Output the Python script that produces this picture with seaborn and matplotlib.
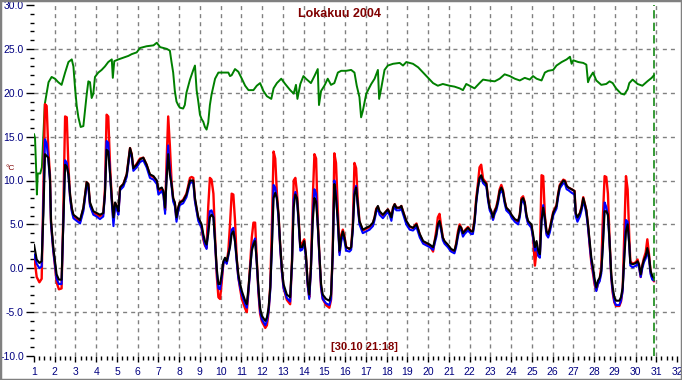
import matplotlib
matplotlib.use("Agg")
import matplotlib.pyplot as plt
import matplotlib.patches as mpatches
from matplotlib.ticker import MultipleLocator, FormatStrFormatter
import seaborn as sns
import pandas as pd

# ---------------- data ----------------
title_text = "Lokakuu 2004"
cursor_text = "[30.10 21:18]"
cursor_day = 30.8875
unit_text = "°C"

days = [1.0, 1.13, 1.26, 1.37, 1.45, 1.53, 1.61, 1.69, 1.77, 1.82, 1.93, 2.01, 2.09, 2.2, 2.33, 2.4, 2.5, 2.58, 2.66, 2.74,
        2.82, 2.9, 3.06, 3.22, 3.38, 3.54, 3.62, 3.7, 3.86, 4.02, 4.18, 4.34, 4.42, 4.5, 4.58, 4.67, 4.75, 4.83, 4.91, 4.99,
        5.07, 5.15, 5.31, 5.47, 5.63, 5.71, 5.79, 5.95, 6.11, 6.27, 6.43, 6.59, 6.76, 6.92, 7.0, 7.16, 7.24, 7.32, 7.39, 7.47,
        7.55, 7.63, 7.71, 7.79, 7.87, 7.95, 8.03, 8.19, 8.35, 8.52, 8.6, 8.68, 8.76, 8.84, 8.92, 9.0, 9.08, 9.16, 9.24, 9.32,
        9.4, 9.48, 9.56, 9.65, 9.73, 9.81, 9.89, 9.97, 10.05, 10.13, 10.21, 10.29, 10.37, 10.45, 10.53, 10.61, 10.69, 10.77, 10.85, 10.94,
        11.02, 11.18, 11.26, 11.34, 11.42, 11.5, 11.58, 11.66, 11.74, 11.82, 11.9, 11.98, 12.15, 12.23, 12.31, 12.39, 12.47, 12.55, 12.63, 12.71,
        12.79, 12.87, 12.95, 13.03, 13.19, 13.35, 13.44, 13.52, 13.6, 13.68, 13.76, 13.84, 13.92, 14.03, 14.11, 14.19, 14.27, 14.35, 14.44, 14.52,
        14.6, 14.68, 14.76, 14.84, 14.92, 15.08, 15.24, 15.32, 15.4, 15.48, 15.56, 15.65, 15.73, 15.81, 15.89, 15.97, 16.05, 16.21, 16.29, 16.37,
        16.45, 16.53, 16.61, 16.69, 16.85, 17.02, 17.18, 17.34, 17.42, 17.5, 17.58, 17.66, 17.82, 17.98, 18.06, 18.15, 18.23, 18.31, 18.39, 18.47,
        18.63, 18.71, 18.79, 18.95, 19.11, 19.27, 19.44, 19.6, 19.76, 19.92, 20.08, 20.24, 20.4, 20.47, 20.55, 20.63, 20.71, 20.79, 20.95, 21.11,
        21.27, 21.35, 21.44, 21.52, 21.6, 21.68, 21.76, 21.92, 22.08, 22.16, 22.24, 22.32, 22.4, 22.48, 22.56, 22.65, 22.81, 22.89, 22.97, 23.05,
        23.13, 23.21, 23.29, 23.37, 23.45, 23.53, 23.61, 23.69, 23.77, 23.94, 24.02, 24.18, 24.34, 24.42, 24.5, 24.58, 24.66, 24.74, 24.82, 24.98,
        25.06, 25.15, 25.23, 25.31, 25.39, 25.47, 25.55, 25.63, 25.71, 25.79, 25.87, 25.95, 26.03, 26.19, 26.27, 26.35, 26.52, 26.6, 26.68, 26.76,
        26.92, 27.06, 27.12, 27.2, 27.32, 27.4, 27.48, 27.56, 27.63, 27.71, 27.79, 27.87, 27.95, 28.03, 28.11, 28.19, 28.27, 28.35, 28.43, 28.51,
        28.59, 28.67, 28.75, 28.83, 28.9, 28.98, 29.06, 29.22, 29.3, 29.38, 29.46, 29.54, 29.62, 29.7, 29.75, 29.86, 30.02, 30.1, 30.17, 30.25,
        30.33, 30.41, 30.49, 30.57, 30.65, 30.73, 30.81, 30.89]

black = [2.7, 1.0, 0.6, 0.8, 6.0, 13.0, 12.8, 12.6, 10.3, 5.4, 2.4, 0.8, -0.7, -1.3, -1.3, 4.0, 11.8, 11.6, 10.7, 8.4,
         6.9, 6.1, 5.8, 5.5, 6.9, 9.8, 9.6, 7.5, 6.5, 6.3, 6.1, 6.3, 8.4, 13.5, 13.3, 10.7, 8.0, 5.8, 7.5, 7.1,
         6.5, 9.2, 9.6, 10.7, 13.7, 13.0, 11.4, 11.8, 12.4, 12.6, 11.8, 10.7, 10.5, 10.0, 9.0, 9.2, 8.8, 6.9, 10.0, 13.0,
         10.7, 9.6, 8.0, 7.5, 5.8, 6.9, 7.5, 7.7, 8.4, 10.0, 10.0, 10.0, 8.0, 6.9, 5.8, 5.4, 5.0, 3.9, 3.1, 2.7,
         3.9, 5.8, 6.1, 5.8, 3.1, 0.0, -1.8, -1.8, -0.7, 0.8, 1.2, 0.8, 1.6, 2.4, 3.9, 4.2, 3.1, 1.2, -0.7, -1.8,
         -2.6, -3.7, -4.1, -2.2, 0.0, 2.0, 2.7, 3.1, 0.8, -2.2, -4.5, -5.4, -6.0, -5.6, -4.5, -2.2, 2.4, 8.0, 8.6, 8.0,
         6.1, 2.7, 0.0, -1.8, -3.0, -3.3, 0.8, 6.9, 8.4, 8.0, 5.4, 2.4, 2.4, 3.1, 1.6, -1.4, -3.0, 0.0, 5.4, 8.0,
         7.6, 5.0, 1.6, -1.8, -3.0, -3.5, -3.7, -3.0, 1.6, 9.6, 8.0, 5.4, 2.0, 3.5, 4.2, 3.5, 2.4, 2.2, 2.4, 4.6,
         8.4, 9.2, 7.3, 5.4, 4.4, 4.6, 4.8, 5.2, 5.8, 6.7, 7.1, 6.5, 6.1, 6.5, 6.7, 6.3, 5.8, 6.9, 7.3, 6.9,
         6.9, 7.1, 6.5, 5.4, 4.8, 4.6, 5.0, 3.9, 3.1, 2.9, 2.7, 2.4, 3.9, 5.0, 5.4, 4.6, 3.5, 3.1, 2.7, 2.2,
         2.0, 2.7, 3.9, 4.8, 4.6, 4.0, 4.2, 4.6, 4.2, 4.2, 5.4, 7.7, 9.2, 10.3, 10.6, 10.0, 9.6, 8.0, 6.9, 6.5,
         5.8, 6.5, 6.9, 7.7, 8.8, 9.2, 8.8, 7.7, 6.9, 6.5, 6.1, 5.6, 5.4, 6.1, 7.8, 8.0, 7.5, 6.1, 5.4, 5.0,
         3.9, 2.4, 3.1, 2.0, 1.6, 5.4, 6.9, 5.8, 4.2, 3.9, 4.5, 5.4, 6.3, 7.1, 8.4, 9.4, 10.0, 9.9, 9.4, 9.2,
         9.0, 8.8, 6.3, 5.8, 6.3, 6.9, 8.0, 7.3, 6.6, 5.0, 3.1, 1.2, 0.1, -1.25, -2.2, -1.4, -1.1, -0.3, 2.7, 6.5,
         6.5, 6.1, 3.1, -0.7, -2.2, -3.3, -3.7, -3.7, -3.3, -2.2, 1.2, 4.2, 5.0, 2.7, 0.6, 0.45, 0.6, 0.8, 0.45, -0.7,
         0.3, 1.0, 1.4, 2.3, 1.4, -0.3, -0.9, -1.1]

red = [1.5, -1.0, -1.6, -1.2, 9.0, 18.7, 18.5, 13.5, 10.6, 5.2, 2.0, 0.3, -1.6, -2.4, -2.3, 5.0, 17.3, 17.2, 11.5, 8.2,
       6.7, 6.0, 5.6, 5.3, 6.8, 9.8, 9.6, 7.3, 6.3, 6.1, 5.9, 6.2, 9.0, 17.5, 17.3, 11.5, 8.0, 5.5, 7.4, 7.0,
       6.4, 9.2, 9.6, 10.7, 13.7, 13.0, 11.4, 11.9, 12.5, 12.6, 11.8, 10.6, 10.4, 9.9, 8.8, 9.0, 8.6, 6.6, 12.0, 17.3,
       14.0, 10.0, 7.9, 7.4, 5.6, 6.8, 7.5, 7.8, 8.5, 10.3, 10.4, 10.3, 7.8, 6.7, 5.7, 5.3, 4.6, 3.3, 2.6, 2.3,
       7.0, 10.3, 10.1, 8.5, 3.5, -0.8, -3.3, -3.5, -1.6, 0.6, 1.0, 0.6, 2.0, 5.0, 8.5, 8.4, 5.5, 1.2, -1.0, -2.4,
       -3.5, -4.6, -5.0, -2.6, 0.5, 3.5, 5.2, 5.2, 1.0, -2.8, -5.2, -6.0, -6.8, -6.5, -5.0, -2.0, 5.0, 13.3, 12.5, 8.6,
       6.0, 2.5, -0.3, -2.2, -3.6, -4.1, 1.0, 10.0, 10.3, 8.6, 5.4, 2.4, 2.8, 3.3, 1.4, -1.8, -3.3, 0.3, 8.0, 13.0,
       12.5, 5.5, 1.4, -2.2, -3.5, -4.2, -4.5, -3.6, 2.0, 13.1, 12.0, 6.5, 1.8, 3.8, 4.4, 3.6, 2.4, 2.2, 2.4, 5.0,
       12.0, 11.4, 7.8, 5.3, 4.3, 4.5, 4.7, 5.1, 5.8, 6.8, 7.0, 6.4, 6.0, 6.5, 6.7, 6.3, 5.8, 6.9, 7.3, 6.9,
       6.9, 7.1, 6.5, 5.3, 4.7, 4.6, 5.1, 3.8, 3.0, 2.8, 2.6, 1.9, 4.4, 5.8, 6.2, 4.8, 3.5, 3.0, 2.6, 2.1,
       1.9, 2.8, 4.2, 5.0, 4.6, 4.0, 4.3, 4.7, 4.2, 4.3, 5.6, 8.0, 9.6, 11.5, 11.8, 10.2, 9.7, 8.1, 6.9, 6.4,
       5.6, 6.6, 7.0, 7.9, 9.0, 9.5, 8.9, 7.7, 6.9, 6.4, 6.0, 5.5, 5.3, 6.1, 8.0, 8.2, 7.5, 6.0, 5.2, 4.8,
       3.5, 0.3, 2.0, 1.5, 1.8, 10.6, 10.5, 6.0, 4.0, 3.8, 4.6, 5.5, 6.4, 7.2, 8.5, 9.5, 10.1, 10.0, 9.4, 9.2,
       9.0, 8.8, 6.2, 5.7, 6.3, 7.0, 8.1, 7.3, 6.6, 4.9, 2.6, 0.6, -0.6, -1.9, -2.5, -1.8, -1.3, 0.2, 6.0, 10.5,
       10.4, 8.5, 3.2, -1.0, -2.8, -3.9, -4.3, -4.3, -3.8, -2.4, 4.0, 10.5, 9.0, 3.5, 0.8, 0.5, 0.7, 1.0, 0.3, -1.0,
       0.4, 1.2, 1.8, 3.3, 1.6, -0.5, -1.1, -1.5]

blue = [1.6, 0.5, 0.0, 0.2, 7.0, 14.7, 14.2, 12.3, 10.0, 5.0, 2.0, 0.4, -1.2, -1.8, -1.8, 4.0, 12.3, 12.0, 10.5, 8.0,
        6.5, 5.7, 5.4, 5.1, 6.5, 9.4, 9.2, 7.1, 6.1, 5.9, 5.6, 5.9, 8.4, 14.5, 14.3, 10.5, 7.5, 4.8, 7.0, 6.7,
        6.1, 8.9, 9.3, 10.4, 13.4, 12.7, 11.1, 11.5, 12.1, 12.3, 11.5, 10.3, 10.1, 9.6, 8.4, 8.8, 8.3, 6.2, 10.5, 14.0,
        11.2, 9.4, 7.6, 7.1, 5.3, 6.5, 7.2, 7.4, 8.1, 9.7, 9.8, 9.7, 7.6, 6.5, 5.4, 5.0, 4.6, 3.5, 2.7, 2.2,
        4.3, 6.5, 6.6, 5.9, 2.8, -0.4, -2.3, -2.4, -1.1, 0.5, 0.9, 0.5, 1.4, 2.6, 4.4, 4.6, 3.0, 0.8, -1.1, -2.2,
        -3.0, -4.1, -4.5, -2.6, -0.3, 2.2, 3.0, 3.4, 0.5, -2.6, -4.9, -5.8, -6.5, -6.0, -4.9, -2.6, 2.5, 9.5, 9.2, 7.8,
        5.7, 2.3, -0.4, -2.2, -3.4, -3.8, 0.5, 7.8, 8.7, 7.8, 5.0, 2.0, 2.1, 2.8, 1.2, -1.8, -3.5, -0.4, 6.0, 9.0,
        8.5, 4.8, 1.2, -2.2, -3.5, -4.0, -4.2, -3.5, 1.3, 10.0, 8.5, 5.0, 1.5, 3.0, 3.9, 3.1, 2.0, 1.9, 2.1, 4.3,
        8.8, 9.4, 7.0, 5.0, 4.0, 4.2, 4.4, 4.8, 5.5, 6.4, 6.8, 6.1, 5.7, 6.2, 6.4, 6.0, 5.4, 6.6, 7.0, 6.6,
        6.6, 6.8, 6.2, 5.0, 4.4, 4.3, 4.7, 3.5, 2.8, 2.6, 2.4, 2.1, 3.6, 4.8, 5.1, 4.3, 3.2, 2.8, 2.4, 1.9,
        1.7, 2.4, 3.6, 4.5, 4.3, 3.6, 3.9, 4.3, 3.9, 3.9, 5.1, 7.4, 9.0, 10.2, 10.4, 9.7, 9.3, 7.7, 6.6, 6.2,
        5.5, 6.2, 6.6, 7.4, 8.5, 8.9, 8.5, 7.4, 6.6, 6.2, 5.8, 5.3, 5.0, 5.8, 7.5, 7.7, 7.2, 5.8, 5.1, 4.6,
        3.5, 2.0, 2.6, 1.4, 1.2, 5.5, 7.2, 5.3, 3.8, 3.5, 4.1, 5.1, 6.0, 6.8, 8.1, 9.1, 9.7, 9.6, 9.0, 8.9,
        8.6, 8.4, 5.9, 5.3, 5.9, 6.6, 7.7, 7.0, 6.2, 4.6, 2.7, 0.8, -0.3, -1.6, -2.6, -1.8, -1.5, -0.6, 2.8, 7.5,
        7.0, 6.0, 2.8, -1.1, -2.6, -3.8, -4.2, -4.2, -3.7, -2.6, 1.4, 5.5, 5.3, 2.5, 0.3, 0.1, 0.3, 0.5, 0.1, -1.0,
        0.0, 0.7, 1.1, 2.0, 1.0, -0.7, -1.3, -1.4]

green_days = [1.0, 1.05, 1.1, 1.14, 1.18, 1.3, 1.38, 1.45, 1.52, 1.6, 1.7, 1.85, 2.01, 2.17, 2.33, 2.5, 2.66, 2.82, 2.9, 2.98,
              3.06, 3.14, 3.25, 3.38, 3.46, 3.54, 3.62, 3.7, 3.78, 3.86, 3.94, 4.1, 4.26, 4.42, 4.58, 4.75, 4.8, 4.87, 5.07, 5.31,
              5.55, 5.71, 5.95, 6.11, 6.43, 6.76, 6.92, 7.08, 7.4, 7.55, 7.63, 7.71, 7.79, 7.87, 7.95, 8.03, 8.19, 8.27, 8.35, 8.52,
              8.68, 8.76, 8.84, 8.92, 9.0, 9.08, 9.16, 9.24, 9.32, 9.4, 9.48, 9.56, 9.73, 9.89, 10.13, 10.37, 10.45, 10.53, 10.69, 10.85,
              11.02, 11.18, 11.34, 11.58, 11.74, 11.9, 12.06, 12.23, 12.44, 12.55, 12.71, 12.92, 13.11, 13.35, 13.52, 13.63, 13.7, 13.84, 13.99, 14.11,
              14.35, 14.52, 14.68, 14.74, 14.84, 15.0, 15.16, 15.32, 15.48, 15.65, 15.81, 16.05, 16.29, 16.45, 16.56, 16.69, 16.77, 16.85, 17.02, 17.26,
              17.42, 17.58, 17.64, 17.74, 17.9, 18.06, 18.31, 18.63, 18.79, 18.95, 19.27, 19.52, 19.76, 20.0, 20.24, 20.47, 20.71, 21.03, 21.27, 21.52,
              21.68, 21.84, 22.0, 22.24, 22.48, 22.65, 22.89, 23.21, 23.45, 23.69, 23.94, 24.18, 24.42, 24.66, 24.9, 25.06, 25.23, 25.47, 25.63, 25.79,
              26.03, 26.19, 26.44, 26.68, 26.84, 26.92, 27.0, 27.24, 27.48, 27.63, 27.71, 27.79, 27.95, 28.11, 28.35, 28.59, 28.75, 28.9, 29.06, 29.3,
              29.46, 29.62, 29.7, 29.86, 30.1, 30.33, 30.57, 30.78, 30.89]

green = [15.3, 14.8, 11.5, 8.4, 10.8, 10.8, 11.5, 15.2, 18.7, 19.8, 21.2, 21.8, 21.6, 21.2, 20.9, 22.3, 23.5, 23.8, 23.0, 20.5,
         18.5, 17.2, 16.1, 16.2, 18.0, 19.8, 21.3, 21.2, 19.4, 19.9, 21.8, 22.3, 22.6, 23.0, 23.5, 23.8, 21.7, 23.6, 23.8, 24.0,
         24.2, 24.4, 24.6, 25.1, 25.3, 25.4, 25.7, 25.2, 25.0, 24.8, 23.5, 22.3, 20.2, 19.0, 18.6, 18.3, 18.2, 18.6, 20.0, 21.5,
         22.6, 23.1, 20.3, 19.0, 17.5, 17.0, 16.7, 16.1, 15.8, 16.6, 18.6, 19.8, 21.6, 22.3, 22.3, 22.3, 21.9, 22.0, 22.7, 22.4,
         21.6, 20.8, 20.3, 20.3, 20.8, 21.1, 20.2, 19.6, 19.3, 20.5, 21.1, 21.6, 21.0, 20.3, 19.9, 20.9, 19.3, 21.0, 21.9, 21.6,
         21.1, 21.9, 22.7, 18.6, 20.2, 20.8, 21.6, 20.9, 21.1, 22.3, 22.5, 22.5, 22.6, 22.3, 20.8, 19.5, 17.2, 17.9, 19.9, 21.0,
         21.6, 22.6, 19.3, 20.5, 22.6, 23.1, 23.3, 23.4, 23.1, 23.5, 23.3, 22.9, 22.3, 21.7, 21.1, 20.8, 21.0, 20.8, 20.7, 20.5,
         20.3, 21.0, 20.8, 20.5, 21.1, 21.5, 21.4, 21.3, 21.6, 22.1, 21.9, 21.6, 21.4, 21.7, 21.5, 21.9, 21.6, 21.4, 22.3, 22.5,
         22.6, 23.1, 23.5, 23.8, 24.1, 23.3, 23.7, 23.5, 23.4, 23.2, 21.2, 21.7, 22.3, 21.4, 20.9, 21.0, 21.3, 21.1, 20.5, 19.9,
         19.8, 20.4, 21.1, 21.5, 21.0, 20.8, 21.3, 21.7, 22.0]

x_ticks = list(range(1, 33))
y_ticks = [-10, -5, 0, 5, 10, 15, 20, 25, 30]

# ---------------- styling ----------------
sns.set_theme(style="white")
plt.rcParams["font.family"] = ["Liberation Sans", "DejaVu Sans"]
plt.rcParams["lines.scale_dashes"] = False

W, H = 682, 380
fig = plt.figure(figsize=(W / 100, H / 100), dpi=100)
fig.patch.set_facecolor("white")
ax = fig.add_axes([34 / W, 1 - 356 / H, (677 - 34) / W, (356 - 5) / H])
ax.set_facecolor("white")

# grid (interior lines only)
for d in x_ticks[1:-1]:
    ax.axvline(d, color="#808080", lw=1.0, ls=(0, (2.9, 2.9)), zorder=0)
for v in y_ticks[1:-1]:
    ax.axhline(v, color="#808080", lw=1.0, ls=(0, (2.9, 2.9)), zorder=0)

df = pd.DataFrame({"day": days, "red": red, "blue": blue, "black": black})
gdf = pd.DataFrame({"day": green_days, "green": green})

sns.lineplot(data=gdf, x="day", y="green", ax=ax, color="#008000", lw=1.4,
             estimator=None, sort=False, zorder=3)
sns.lineplot(data=df, x="day", y="red", ax=ax, color="#ff0000", lw=1.7,
             estimator=None, sort=False, zorder=4)
sns.lineplot(data=df, x="day", y="blue", ax=ax, color="#0000ff", lw=1.5,
             estimator=None, sort=False, zorder=5)
sns.lineplot(data=df, x="day", y="black", ax=ax, color="#000000", lw=1.5,
             estimator=None, sort=False, zorder=6)

ax.axvline(cursor_day, color="#008000", lw=1.1, ls=(0, (6, 3)), zorder=7)

ax.set_xlim(x_ticks[0], x_ticks[-1])
ax.set_ylim(y_ticks[0], y_ticks[-1])
ax.set_xticks(x_ticks)
ax.set_yticks(y_ticks)
ax.xaxis.set_minor_locator(MultipleLocator(0.25))
ax.yaxis.set_minor_locator(MultipleLocator(1))
ax.yaxis.set_major_formatter(FormatStrFormatter("%.1f"))
ax.set_xlabel("")
ax.set_ylabel("")
for s in ax.spines.values():
    s.set_visible(False)

ax.tick_params(axis="x", which="major", direction="out", length=4.6, width=1.0,
               color="black", labelsize=7.5, labelcolor="#000080", pad=3, bottom=True)
ax.tick_params(axis="x", which="minor", direction="out", length=2.9, width=1.0,
               color="black", bottom=True)
ax.tick_params(axis="y", which="major", direction="out", length=5.8, width=1.0,
               color="black", labelsize=7.5, labelcolor="#000080", pad=1.5, left=True)
ax.tick_params(axis="y", which="minor", direction="out", length=2.9, width=1.0,
               color="black", left=True)

fig.text(340 / W, 1 - 14 / H, title_text, ha="center", va="center",
         fontsize=9, fontweight="bold", color="#800000")
fig.text(364 / W, 1 - 347 / H, cursor_text, ha="center", va="center",
         fontsize=8, fontweight="bold", color="#800000")
fig.text(10 / W, 1 - 168 / H, unit_text, ha="center", va="center",
         fontsize=6, color="#800000")

fig.patches.append(mpatches.Rectangle((0, 0), 1, 1, transform=fig.transFigure,
                                      fill=False, edgecolor="#808080", lw=2.5))

fig.savefig("out.png", dpi=100)
